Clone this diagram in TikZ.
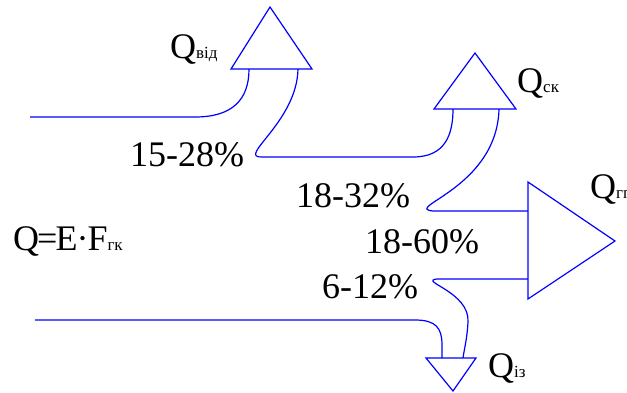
\documentclass[tikz,border=0pt]{standalone}
\usepackage{fontspec}
\setmainfont{Liberation Serif}
\usetikzlibrary{positioning}
\definecolor{flowblue}{RGB}{0,0,255}
\newcommand{\qsub}[1]{{\fontsize{17}{20}\selectfont #1}}

\begin{document}
\begin{tikzpicture}[x=1pt, y=-1pt,
    flowline/.style={flowblue, line width=1.2pt},
    tribox/.style={flowblue, line width=1.2pt, line join=miter},
    biglabel/.style={anchor=base west, inner sep=0pt, font=\fontsize{36}{40}\selectfont}
  ]
  \useasboundingbox (0,0) rectangle (627,392);

  % triangles (outlets)
  \coordinate (vidL) at (231,69);  \coordinate (vidT) at (270,7);   \coordinate (vidR) at (312,69);
  \coordinate (skL) at (434,109);  \coordinate (skT) at (475,53);   \coordinate (skR) at (516,109);
  \coordinate (gpU) at (528,182);  \coordinate (gpT) at (615,241);  \coordinate (gpD) at (528,299);
  \coordinate (izL) at (426,358);  \coordinate (izT) at (453,391);  \coordinate (izR) at (476,358);
  \draw[tribox] (vidL) -- (vidT) -- (vidR) -- cycle;
  \draw[tribox] (skL) -- (skT) -- (skR) -- cycle;
  \draw[tribox] (gpU) -- (gpT) -- (gpD) -- cycle;
  \draw[tribox] (izL) -- (izT) -- (izR) -- cycle;

  % ports on the triangles
  \coordinate (vidIn) at (249,69);  \coordinate (vidOut) at (298,69);
  \coordinate (skIn) at (453,109);  \coordinate (skOut) at (499,109);
  \coordinate (gpIn1) at (528,211); \coordinate (gpIn2) at (528,279);
  \coordinate (izIn1) at (442,358); \coordinate (izIn2) at (463,358);
  \coordinate (srcTop) at (30,117); \coordinate (srcBot) at (35,320);

  % flows
  \draw[flowline] (srcTop) -- (195,117) .. controls (232,117) and (249,100) .. (vidIn);
  \draw[flowline] (vidOut) .. controls (297,122) and (236,158) .. (262,157) -- (413,157)
    .. controls (445,157) and (453,135) .. (skIn);
  \draw[flowline] (skOut) .. controls (497,188) and (402,208) .. (433,211) -- (gpIn1);
  \draw[flowline] (gpIn2) -- (437,279) .. controls (418,281) and (470,292) .. (468,322)
    .. controls (467,340) and (464,350) .. (izIn2);
  \draw[flowline] (srcBot) -- (415,320) .. controls (436,320) and (442,328) .. (442,345) -- (izIn1);

  % labels
  \node[biglabel] (qvid) at (170,58) {Q\qsub{від}};
  \node[biglabel] (qsk) at (517,92) {Q\qsub{ск}};
  \node[biglabel] (qgp) at (590,198) {Q\qsub{гп}};
  \node[biglabel] (qiz) at (488,377) {Q\qsub{із}};
  \node[biglabel] (qform) at (13,250) {Q\kern-2pt=\kern-2pt E\kern-1pt·\kern-1pt F\qsub{гк}};
  \node[biglabel] (p1) at (130,166) {15-28\%};
  \node[biglabel] (p2) at (296,207) {18-32\%};
  \node[biglabel] (p3) at (365,253) {18-60\%};
  \node[biglabel] (p4) at (322,298) {6-12\%};
\end{tikzpicture}
\end{document}
